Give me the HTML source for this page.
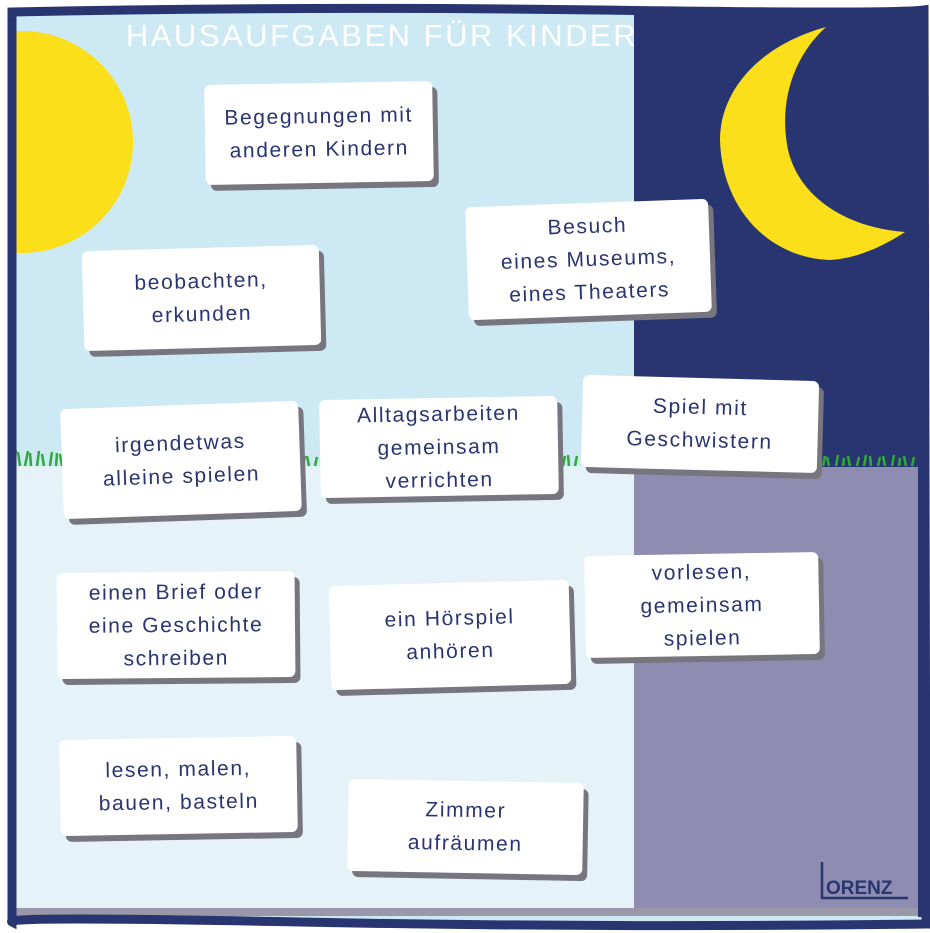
<!DOCTYPE html>
<html><head><meta charset="utf-8"><style>
html,body{margin:0;padding:0;background:#fff;}
#c{position:relative;width:930px;height:933px;overflow:hidden;background:#fff;font-family:"Liberation Sans",sans-serif;}
.card{position:absolute;background:#fff;border-radius:6px;box-shadow:5px 6px 0 #77767e;color:#2a3470;font-size:21px;letter-spacing:1.6px;line-height:33px;text-align:center;display:flex;align-items:center;justify-content:center;}
</style></head><body><div id="c">
<svg width="930" height="933" style="position:absolute;left:0;top:0">
<defs><clipPath id="cl"><rect x="12" y="10" width="910" height="912"/></clipPath></defs>
<rect x="12" y="10" width="910" height="912" fill="#cde9f4"/>
<rect x="12" y="466" width="623" height="450" fill="#e5f3f9"/>
<rect x="634" y="10" width="290" height="460" fill="#283570"/>
<rect x="634" y="467" width="284" height="445" fill="#8f8cb2"/>
<rect x="918" y="467" width="8" height="450" fill="#283570"/>
<rect x="12" y="908" width="906" height="8" fill="#9a98a8"/>
<circle cx="22" cy="142" r="111" fill="#fbdf1b" clip-path="url(#cl)"/>
<path d="M826,27 C760,45 720,90 720,140 C722,210 770,258 830,260 C860,258 885,245 905,232 C850,228 800,200 788,150 C778,100 795,55 826,27 Z" fill="#fbdf1b"/>
<g stroke="#2faa3a" stroke-width="2.5">
<path d="M14,466 l2,-16 M20,466 l-2,-14 M25,466 l3,-15 M31,466 l-1,-13 M37,466 l2,-15 M44,466 l-2,-12 M50,466 l2,-14 M56,466 l1,-13 M62,466 l-2,-12"/>
<path d="M303,466 l2,-10 M309,466 l-2,-10 M315,466 l2,-9"/>
<path d="M563,466 l2,-10 M569,466 l-1,-11 M575,466 l2,-10"/>
<path d="M823,466 l2,-10 M829,466 l-2,-9 M836,466 l2,-11 M843,466 l1,-8 M850,466 l-2,-10 M857,466 l2,-9 M864,466 l2,-11 M871,466 l-1,-10 M878,466 l2,-9 M885,466 l-2,-10 M892,466 l2,-11 M899,466 l1,-8 M906,466 l-2,-10 M912,466 l2,-9"/>
</g>
<path d="M12,12 Q300,6 600,10 T924,10 L926,924 Q600,928 300,922 T12,922 Z" fill="none" stroke="#283570" stroke-width="9"/>
<text x="382" y="46" fill="#fff" font-size="31" letter-spacing="2.5" text-anchor="middle" font-family="Liberation Sans,sans-serif">HAUSAUFGABEN FÜR KINDER</text>
<path d="M822,862 L822,898 L908,898" stroke="#283570" stroke-width="2.5" fill="none"/>
<text x="826" y="894" fill="#283570" font-size="19" font-weight="bold" font-family="Liberation Sans,sans-serif">ORENZ</text>
</svg>
<div class="card" style="left:205px;top:83px;width:228px;height:100px;transform:rotate(-1deg)">Begegnungen mit<br>anderen Kindern</div>
<div class="card" style="left:467px;top:203px;width:243px;height:113px;transform:rotate(-2deg)">Besuch<br>eines Museums,<br>eines Theaters</div>
<div class="card" style="left:83px;top:248px;width:237px;height:100px;transform:rotate(-1.5deg)">beobachten,<br>erkunden</div>
<div class="card" style="left:62px;top:405px;width:238px;height:110px;transform:rotate(-2deg)">irgendetwas<br>alleine spielen</div>
<div class="card" style="left:320px;top:398px;width:238px;height:98px;transform:rotate(-1deg)">Alltagsarbeiten<br>gemeinsam<br>verrichten</div>
<div class="card" style="left:582px;top:378px;width:236px;height:92px;transform:rotate(1.5deg)">Spiel mit<br>Geschwistern</div>
<div class="card" style="left:57px;top:572px;width:238px;height:106px;transform:rotate(-0.5deg)">einen Brief oder<br>eine Geschichte<br>schreiben</div>
<div class="card" style="left:330px;top:583px;width:240px;height:104px;transform:rotate(-1.5deg)">ein Hörspiel<br>anhören</div>
<div class="card" style="left:585px;top:554px;width:234px;height:102px;transform:rotate(-1deg)">vorlesen,<br>gemeinsam<br>spielen</div>
<div class="card" style="left:60px;top:738px;width:237px;height:96px;transform:rotate(-1deg)">lesen, malen,<br>bauen, basteln</div>
<div class="card" style="left:348px;top:781px;width:235px;height:92px;transform:rotate(1deg)">Zimmer<br>aufräumen</div>
</div></body></html>
